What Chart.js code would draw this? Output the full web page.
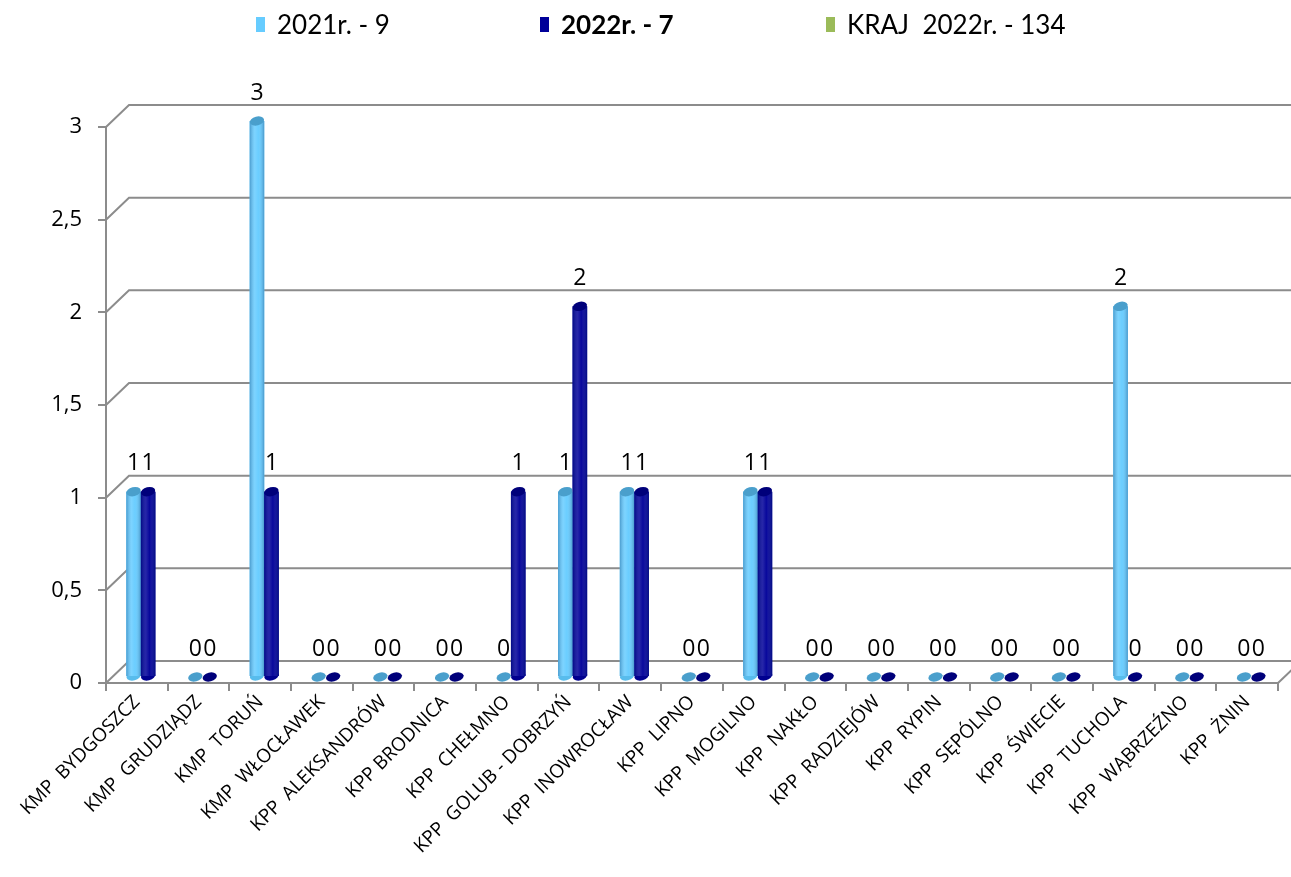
<!DOCTYPE html>
<html lang="pl">
<head>
<meta charset="utf-8">
<script src="https://cdn.jsdelivr.net/npm/chart.js@4"></script>
<style>
  body { margin: 0; background: #fff; }
  #wrap { position: relative; width: 1291px; height: 877px; }
  #legend { position: absolute; top: 7px; left: 0; width: 1291px; height: 40px; font-family: Lato, sans-serif; font-size: 26px; color: #000; }
  .item { position: absolute; top: 0; display: flex; align-items: center; height: 34px; white-space: pre; }
  .box { width: 9px; height: 15px; margin-right: 12px; }
</style>
</head>
<body>
<div id="wrap">
  <canvas id="chart" width="1291" height="877"></canvas>
  <div id="legend"></div>
</div>
<script>
// categories
const categories = [
    'KMP  BYDGOSZCZ', 'KMP  GRUDZIĄDZ', 'KMP  TORUŃ', 'KMP  WŁOCŁAWEK', 'KPP  ALEKSANDRÓW',
    'KPP BRODNICA', 'KPP  CHEŁMNO', 'KPP  GOLUB - DOBRZYŃ', 'KPP  INOWROCŁAW', 'KPP  LIPNO',
    'KPP  MOGILNO', 'KPP  NAKŁO', 'KPP  RADZIEJÓW', 'KPP  RYPIN', 'KPP  SĘPÓLNO',
    'KPP  ŚWIECIE', 'KPP  TUCHOLA', 'KPP  WĄBRZEŹNO', 'KPP  ŻNIN'
];
const values2021 = [1, 0, 3, 0, 0, 0, 0, 1, 1, 0, 1, 0, 0, 0, 0, 0, 2, 0, 0];
const values2022 = [1, 0, 1, 0, 0, 0, 1, 2, 1, 0, 1, 0, 0, 0, 0, 0, 0, 0, 0];
const legendLabels = ['2021r. - 9', '2022r. - 7', 'KRAJ  2022r. - 134'];
const yTickLabels = ['0', '0,5', '1', '1,5', '2', '2,5', '3'];

const colors = ['#66ccff', '#000099', '#9bbb59'];
const capColors = ['#4a9fcc', '#00007a'];
const baseColors = ['#58bcec', '#00008f'];

// legend (html, because the 2nd entry is bold)
const legendLeft = [256, 540, 826];
const legendEl = document.getElementById('legend');
legendLabels.forEach(function(txt, i) {
    const it = document.createElement('div');
    it.className = 'item';
    it.style.left = legendLeft[i] + 'px';
    if (i === 1) it.style.fontWeight = 'bold';
    const b = document.createElement('span');
    b.className = 'box';
    b.style.background = colors[i];
    it.appendChild(b);
    it.appendChild(document.createTextNode(txt));
    legendEl.appendChild(it);
});

const GRID = '#8c8c8c';
const DX = 23, DY = 22;      // depth of the back wall
const BX = 4, BY = -6;       // bars sit a bit behind the front plane
const RY = 4.5;              // cylinder cap half height

const walls3d = {
    id: 'walls3d',
    beforeDatasetsDraw(chart) {
        const ctx = chart.ctx, y = chart.scales.y, a = chart.chartArea;
        ctx.save();
        ctx.strokeStyle = GRID;
        ctx.lineWidth = 2;
        y.ticks.forEach(function(t) {
            const py = y.getPixelForValue(t.value);
            ctx.beginPath();
            ctx.moveTo(a.left, py);
            ctx.lineTo(a.left + DX, py - DY);
            ctx.lineTo(a.right + DX, py - DY);
            ctx.stroke();
        });
        ctx.beginPath();
        ctx.moveTo(a.right, a.bottom);
        ctx.lineTo(a.right + DX, a.bottom - DY);
        ctx.stroke();
        ctx.restore();
        ctx.save();
        ctx.translate(BX, BY);
    },
    afterDatasetsDraw(chart) {
        const ctx = chart.ctx;
        chart.data.datasets.forEach(function(ds, di) {
            chart.getDatasetMeta(di).data.forEach(function(el) {
                const w = el.width, x0 = el.x - w / 2;
                if (el.base - el.y > 1) {
                    // rounded foot of the cylinder
                    ctx.fillStyle = baseColors[di];
                    ctx.beginPath();
                    ctx.ellipse(el.x, el.base, w / 2, RY, -0.25, 0, Math.PI * 2);
                    ctx.fill();
                    const g = ctx.createLinearGradient(x0, 0, x0 + w, 0);
                    g.addColorStop(0, 'rgba(0,30,80,0.28)');
                    g.addColorStop(0.35, 'rgba(255,255,255,0.15)');
                    g.addColorStop(0.6, 'rgba(255,255,255,0.03)');
                    g.addColorStop(1, 'rgba(0,30,80,0.3)');
                    ctx.fillStyle = colors[di];
                    ctx.fillRect(x0, el.y, w, el.base - el.y);
                    ctx.fillStyle = g;
                    ctx.fillRect(x0, el.y, w, el.base - el.y);
                }
                ctx.fillStyle = capColors[di];
                ctx.beginPath();
                ctx.ellipse(el.x, el.y, w / 2, RY, -0.25, 0, Math.PI * 2);
                ctx.fill();
            });
        });
        ctx.restore();
    },
    afterDraw(chart) {
        const ctx = chart.ctx;
        ctx.save();
        ctx.font = '23px "Open Sans"';
        ctx.fillStyle = '#000';
        ctx.textAlign = 'center';
        ctx.textBaseline = 'middle';
        chart.data.datasets.forEach(function(ds, di) {
            chart.getDatasetMeta(di).data.forEach(function(el, i) {
                ctx.fillText(String(ds.data[i]), el.x + BX, el.y + BY - 28);
            });
        });
        ctx.restore();
    }
};

new Chart(document.getElementById('chart').getContext('2d'), {
    type: 'bar',
    data: {
        labels: categories,
        datasets: [{
            label: legendLabels[0],
            data: values2021,
            backgroundColor: colors[0],
        }, {
            label: legendLabels[1],
            data: values2022,
            backgroundColor: colors[1],
        }]
    },
    options: {
        responsive: false,
        animation: false,
        categoryPercentage: 0.47,
        barPercentage: 1.0,
        layout: { padding: { top: 127, right: 13, left: 0, bottom: 0 } },
        plugins: {
            legend: { display: false },
            tooltip: { enabled: false }
        },
        scales: {
            x: {
                grid: { display: true, drawOnChartArea: false, offset: true, tickLength: 8, color: GRID, lineWidth: 2 },
                border: { display: true, color: GRID, width: 2 },
                ticks: {
                    autoSkip: false,
                    minRotation: 45,
                    maxRotation: 45,
                    color: '#000',
                    font: { family: 'Open Sans', size: 19 },
                    padding: 0
                },
                afterFit(s) { s.height = 194; s.paddingLeft = 0; s.paddingRight = 0; }
            },
            y: {
                min: 0,
                max: 3,
                grid: { display: true, drawOnChartArea: false, tickLength: 8, color: GRID, lineWidth: 2 },
                border: { display: true, color: GRID, width: 2 },
                ticks: {
                    stepSize: 0.5,
                    padding: 16,
                    color: '#000',
                    font: { family: 'Open Sans', size: 22 },
                    callback: function(v, i) { return yTickLabels[i]; }
                },
                afterFit(s) { s.width = 106; s.paddingTop = 0; s.paddingBottom = 0; }
            }
        }
    },
    plugins: [walls3d]
});
</script>
</body>
</html>
